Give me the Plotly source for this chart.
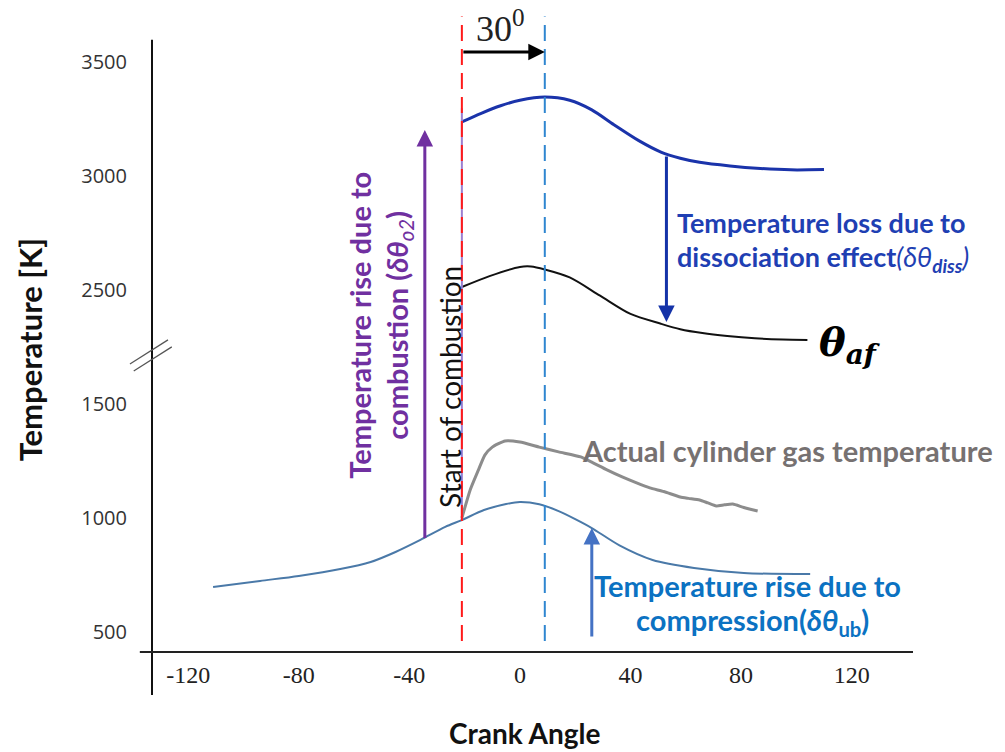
import plotly.graph_objects as go

# ---------------- data (crank angle in degrees, temperature in K) ----------------
# adiabatic flame temperature without dissociation
ad_angle = [-21, -14, -7, 0, 9, 18, 26, 34, 43, 51, 58, 65, 76, 87, 98, 110]
ad_temp = [3237, 3275, 3308, 3332, 3346, 3332, 3290, 3225, 3155, 3105, 3078, 3060, 3044, 3033, 3027, 3028]

# adiabatic flame temperature with dissociation (theta_af)
af_angle = [-21, -11, 0, 4, 9, 18, 29, 40, 51, 58, 66, 75, 85, 95, 104]
af_temp = [2513, 2561, 2601, 2603, 2590, 2555, 2475, 2395, 2352, 2328, 2311, 2298, 2288, 2283, 2281]

# measured cylinder gas temperature
act_angle = [-21, -18, -15, -12.7, -10, -5.4, 0, 7, 14, 22, 26, 31.5, 37, 42, 47, 52, 58, 61, 65, 68, 71, 74, 77, 81, 86]
act_temp = [1000, 1123, 1211, 1276, 1311, 1338, 1333, 1311, 1290, 1268, 1245, 1211, 1180, 1155, 1132, 1116, 1092, 1086, 1079, 1066, 1053, 1058, 1061, 1046, 1031]

# unburned gas temperature from compression
comp_angle = [-111, -94, -80, -65, -54, -45, -36, -27, -21, -13, -5, 0, 7, 14, 20, 26, 36, 48, 63, 81, 105]
comp_temp = [697, 724, 746, 776, 807, 851, 904, 961, 991, 1035, 1061, 1070, 1060, 1030, 995, 956, 880, 816, 781, 759, 754]

# start of combustion and the 30 degree offset to the peak
soc_angle = -21
peak_angle = soc_angle + 30

# axis ticks
x_ticks = [-120, -80, -40, 0, 40, 80, 120]
y_tick_temps = [500, 1000, 1500, 2500, 3000, 3500]

BREAK_AT = 1750   # axis position of the break marks
BREAK_CUT = 500   # temperatures above the break are shifted down by this much


def ty(t):
    """Map a temperature onto the broken temperature axis."""
    return t if t <= BREAK_AT else t - BREAK_CUT


def ty_list(vals):
    return [ty(v) for v in vals]


TXT = "Lato"

fig = go.Figure()

fig.add_trace(go.Scatter(x=comp_angle, y=ty_list(comp_temp), mode="lines",
                         line=dict(color="#4a79a8", width=2, shape="spline", smoothing=0.8),
                         hoverinfo="skip"))
fig.add_trace(go.Scatter(x=act_angle, y=ty_list(act_temp), mode="lines",
                         line=dict(color="#8c8c8c", width=3, shape="spline", smoothing=0.5),
                         hoverinfo="skip"))
fig.add_trace(go.Scatter(x=af_angle, y=ty_list(af_temp), mode="lines",
                         line=dict(color="#111111", width=2, shape="spline", smoothing=0.8),
                         hoverinfo="skip"))
fig.add_trace(go.Scatter(x=ad_angle, y=ty_list(ad_temp), mode="lines",
                         line=dict(color="#1a33aa", width=3, shape="spline", smoothing=0.8),
                         hoverinfo="skip"))

# vertical guides: combustion start (purple link + red dashes) and peak (blue dashes)
shapes = [
    dict(type="line", xref="x", yref="y", x0=soc_angle, x1=soc_angle,
         y0=ty(comp_temp[comp_angle.index(soc_angle)]), y1=ty(ad_temp[0]) + 60,
         line=dict(color="#9b7fd0", width=2)),
    dict(type="line", xref="x", yref="y", x0=soc_angle, x1=soc_angle, y0=460, y1=3200,
         line=dict(color="#ff1a1a", width=2, dash="16px,8px")),
    dict(type="line", xref="x", yref="y", x0=peak_angle, x1=peak_angle, y0=460, y1=3200,
         line=dict(color="#2f86d0", width=2, dash="16px,8px")),
    # axis lines crossing each other
    dict(type="line", xref="paper", yref="paper", x0=0, x1=0, y0=-0.0675, y1=0.961,
         line=dict(color="#111111", width=2)),
    dict(type="line", xref="paper", yref="paper", x0=-0.016, x1=1, y0=0, y1=0,
         line=dict(color="#222222", width=2)),
    # break marks on the temperature axis
    dict(type="line", xref="paper", yref="paper", x0=-0.029, x1=0.021, y0=0.452, y1=0.490,
         line=dict(color="#555555", width=1.2)),
    dict(type="line", xref="paper", yref="paper", x0=-0.024, x1=0.026, y0=0.441, y1=0.479,
         line=dict(color="#555555", width=1.2)),
]

ann = []


def arrow(x0, y0, x1, y1, color, width=3):
    ann.append(dict(x=x1, y=y1, ax=x0, ay=y0, xref="x", yref="y", axref="x", ayref="y",
                    text="", showarrow=True, arrowhead=2, arrowsize=1.1,
                    arrowwidth=width, arrowcolor=color))


def label(x, y, text, size, color, xanchor="center", angle=0, family=TXT):
    ann.append(dict(x=x, y=y, xref="x", yref="y", text=text, showarrow=False,
                    xanchor=xanchor, yanchor="middle", textangle=angle,
                    font=dict(family=family, size=size, color=color)))


# 30 degree offset arrow
arrow(soc_angle, ty(3544), peak_angle, ty(3544), "#000000", 3)
label(-7, ty(3655), "30<sup>0</sup>", 36, "#222222", family="Liberation Serif")

# combustion rise
arrow(-34.4, ty(906), -34.4, ty(3202), "#7030a0", 3)
label(-57.9, ty(2347), "<b>Temperature rise due to</b>", 29, "#7030a0", angle=-90)
label(-43.8, ty(2347), "<b>combustion (</b><b><i>δθ</i></b><sub><i>o2</i></sub><b>)</b>", 29,
      "#7030a0", angle=-90)
label(-25.3, ty(1575), "Start of combustion", 28, "#111111", angle=-90)

# dissociation loss
arrow(53, ty(3092), 53, ty(2360), "#1533a8", 3)
label(56, ty(2798), "<b>Temperature loss due to</b>", 27, "#1f3fb3", xanchor="left")
label(56, ty(2640), "<b>dissociation effect</b><i>(δθ</i><sub><b><i>diss</i></b></sub><i>)</i>", 27,
      "#1f3fb3", xanchor="left")
label(107.5, ty(2262), "<b><i>θ</i></b><sub><b><i>af</i></b></sub>", 40, "#000000",
      xanchor="left", family="DejaVu Serif")

# measured temperature
label(21.7, ty(1294), "<b>Actual cylinder gas temperature</b>", 29, "#767171", xanchor="left")

# compression rise
arrow(26, ty(474), 26, ty(956), "#4472c4", 3)
label(82.5, ty(706), "<b>Temperature rise due to</b>", 29, "#0b72c2")
label(84, ty(544), "<b>compression(</b><b><i>δθ</i></b><sub><b>ub</b></sub><b>)</b>", 29, "#0b72c2")

# axis titles
ann.append(dict(x=0.49, y=-0.127, xref="paper", yref="paper", text="<b>Crank Angle</b>",
                showarrow=False, xanchor="center", yanchor="middle",
                font=dict(family=TXT, size=28, color="#111111")))
ann.append(dict(x=-0.16, y=0.474, xref="paper", yref="paper", text="<b>Temperature [K]</b>",
                showarrow=False, xanchor="center", yanchor="middle", textangle=-90,
                font=dict(family=TXT, size=31, color="#111111")))

fig.update_layout(
    width=1005, height=752,
    margin=dict(l=152, r=92, t=15, b=100),
    paper_bgcolor="white", plot_bgcolor="white",
    showlegend=False,
    shapes=shapes,
    annotations=ann,
    xaxis=dict(range=[-133.1, 142.2], tickvals=x_ticks, ticktext=[str(v) for v in x_ticks],
               showgrid=False, zeroline=False, showline=False, ticks="",
               ticklabelstandoff=6,
               tickfont=dict(family="Liberation Serif", size=24, color="#222222")),
    yaxis=dict(range=[412.3, 3206.1], tickvals=[ty(v) for v in y_tick_temps],
               ticktext=[str(v) for v in y_tick_temps],
               showgrid=False, zeroline=False, showline=False, ticks="",
               ticklabelstandoff=24,
               tickfont=dict(family="Open Sans", size=20, color="#333333")),
)

fig.write_html("out.html")
